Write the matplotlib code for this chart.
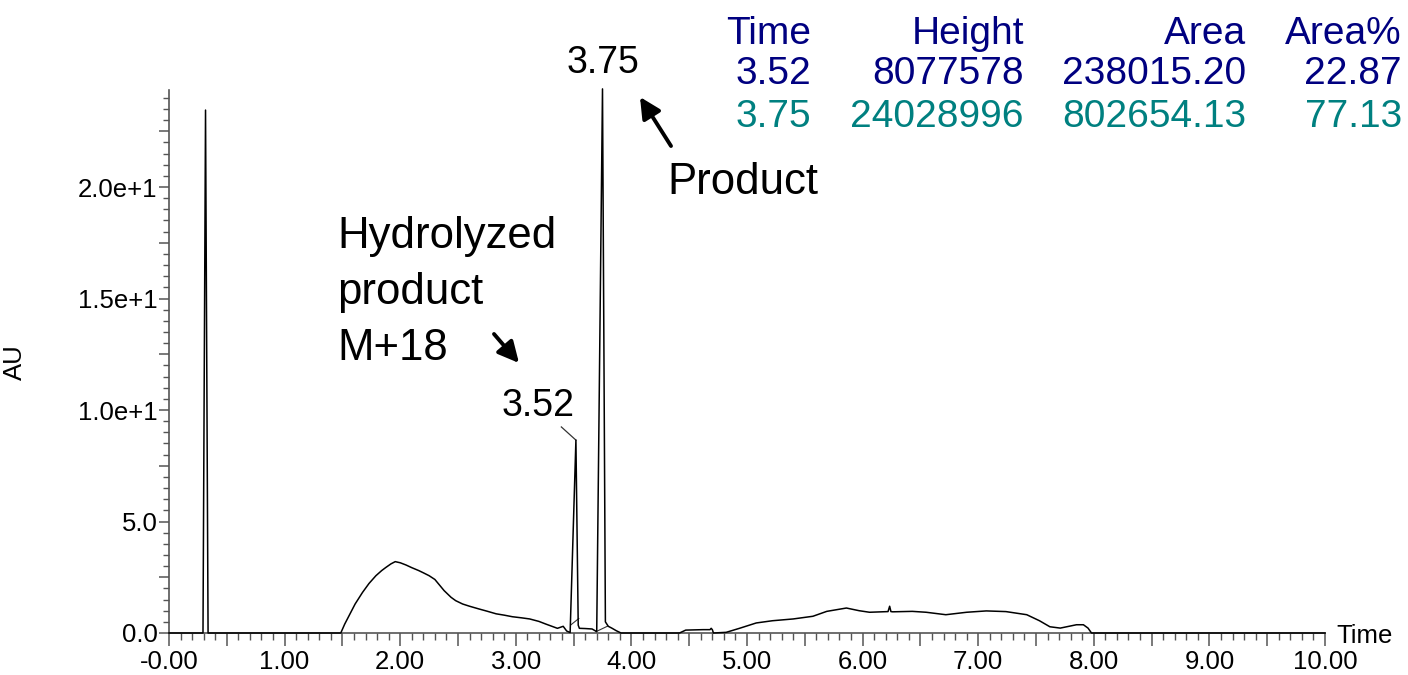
import numpy as np
import matplotlib
matplotlib.use("Agg")
import matplotlib.pyplot as plt
from matplotlib.ticker import FixedLocator, MultipleLocator

plt.rcParams["font.family"] = ["Liberation Sans", "DejaVu Sans"]

# ---- chromatogram trace (retention time in min, absorbance in AU) ----
trace_time = [0.00, 0.294, 0.316, 0.338,
              1.486, 1.52, 1.558, 1.61, 1.674, 1.73, 1.79, 1.84, 1.876, 1.92, 1.957,
              2.00, 2.05, 2.10, 2.16, 2.20, 2.25, 2.30, 2.34, 2.38, 2.44, 2.48,
              2.54, 2.60, 2.68, 2.75, 2.83, 2.90, 2.97, 3.05,
              3.12, 3.20, 3.26, 3.36, 3.41, 3.44, 3.47,
              3.52, 3.54, 3.55, 3.60, 3.66, 3.70,
              3.75, 3.775, 3.80, 3.83, 3.87, 3.91,
              4.416, 4.47, 4.62, 4.68, 4.69, 4.70, 4.71, 4.82, 4.935, 5.08, 5.22,
              5.40, 5.57, 5.69, 5.86, 5.97, 6.06, 6.22, 6.234, 6.245, 6.26, 6.43,
              6.55, 6.72, 6.90, 7.07, 7.24, 7.42, 7.53, 7.62, 7.71, 7.85, 7.91,
              7.95, 7.98, 10.00]
trace_au = [0.00, 0.00, 23.45, 0.00,
            0.00, 0.40, 0.78, 1.30, 1.82, 2.22, 2.57, 2.80, 2.94, 3.10, 3.20,
            3.15, 3.05, 2.93, 2.80, 2.70, 2.57, 2.40, 2.15, 1.90, 1.60, 1.45,
            1.30, 1.20, 1.08, 0.98, 0.86, 0.80, 0.73, 0.68,
            0.63, 0.52, 0.40, 0.21, 0.30, 0.09, 0.02,
            8.65, 0.35, 0.21, 0.20, 0.18, 0.06,
            24.40, 0.50, 0.30, 0.22, 0.10, 0.00,
            0.00, 0.13, 0.15, 0.15, 0.21, 0.15, 0.00, 0.03, 0.21, 0.45, 0.55,
            0.63, 0.75, 0.97, 1.12, 1.00, 0.93, 0.96, 1.20, 0.96, 0.95, 0.97,
            0.93, 0.82, 0.93, 0.99, 0.96, 0.82, 0.55, 0.28, 0.22, 0.37, 0.37,
            0.22, 0.00, 0.00]

# ---- integrated peaks ----
peak_times = ["3.52", "3.75"]
peak_apex_au = [8.65, 24.40]
peak_heights = ["8077578", "24028996"]
peak_areas = ["238015.20", "802654.13"]
peak_area_pct = ["22.87", "77.13"]
# integration baseline segments (start time, start AU, end time, end AU)
baseline_t0 = [3.475, 3.694]
baseline_y0 = [0.36, 0.06]
baseline_t1 = [3.545, 3.795]
baseline_y1 = [0.65, 0.31]

# ---- axis ticks ----
x_tick_values = [0, 1, 2, 3, 4, 5, 6, 7, 8, 9, 10]
x_tick_labels = ["-0.00", "1.00", "2.00", "3.00", "4.00", "5.00",
                 "6.00", "7.00", "8.00", "9.00", "10.00"]
y_tick_values = [0, 5, 10, 15, 20]
y_tick_labels = ["0.0", "5.0", "1.0e+1", "1.5e+1", "2.0e+1"]

W, H = 1408, 675
fig = plt.figure(figsize=(W / 100, H / 100), dpi=100)
ax = fig.add_axes([169 / W, 42 / H, (1325 - 169) / W, (633 - 90) / H])

ax.plot(trace_time, trace_au, color="black", lw=1.1, clip_on=False, zorder=3)
for t0, y0, t1, y1 in zip(baseline_t0, baseline_y0, baseline_t1, baseline_y1):
    ax.plot([t0, t1], [y0, y1], color="#333333", lw=0.8, zorder=2)

ax.set_xlim(0, 10)
ax.set_ylim(0, 24.35)

axis_col = "#555555"
for side in ("top", "right"):
    ax.spines[side].set_visible(False)
for side in ("left", "bottom"):
    ax.spines[side].set_color(axis_col)
    ax.spines[side].set_linewidth(1.2)

# x axis: long ticks every 0.5 min (labelled on whole minutes), short every 0.1
x_major = np.arange(0, 10.01, 0.5)
x_labels = []
for v in x_major:
    if abs(v - round(v)) < 1e-9 and int(round(v)) in x_tick_values:
        x_labels.append(x_tick_labels[x_tick_values.index(int(round(v)))])
    else:
        x_labels.append("")
ax.xaxis.set_major_locator(FixedLocator(x_major))
ax.set_xticklabels(x_labels)
ax.xaxis.set_minor_locator(MultipleLocator(0.1))

y_major = np.arange(0, 24.01, 2.5)
y_labels = []
for v in y_major:
    if abs(v - round(v)) < 1e-9 and int(round(v)) in y_tick_values:
        y_labels.append(y_tick_labels[y_tick_values.index(int(round(v)))])
    else:
        y_labels.append("")
ax.yaxis.set_major_locator(FixedLocator(y_major))
ax.set_yticklabels(y_labels)
ax.yaxis.set_minor_locator(MultipleLocator(0.5))

ax.tick_params(axis="x", which="major", length=9.5, width=1.1, color=axis_col,
               pad=3, labelsize=18.5)
ax.tick_params(axis="x", which="minor", length=5, width=1.0, color=axis_col)
ax.tick_params(axis="y", which="major", length=7, width=1.1, color=axis_col,
               pad=1.2, labelsize=18.5)
ax.tick_params(axis="y", which="minor", length=4.5, width=1.0, color=axis_col)

# axis titles
fig.text(15 / W, 1 - 362 / H, "AU", rotation=90, ha="center", va="center", fontsize=18.5)
fig.text(1336 / W, 1 - 636 / H, "Time", ha="left", va="center", fontsize=18.5)

# peak labels
lbl_size = 27
ax.text(float(peak_times[1]), peak_apex_au[1] + 0.35, peak_times[1],
        ha="center", va="bottom", fontsize=lbl_size, clip_on=False)
ax.text(3.19, 9.35, peak_times[0], ha="center", va="bottom", fontsize=lbl_size)
ax.plot([3.394, float(peak_times[0])], [9.24, peak_apex_au[0]],
        color="#333333", lw=0.9)

# annotations
ann_size = 31.5
hydro_lines = ["Hydrolyzed", "product", "M+18"]
for i, line in enumerate(hydro_lines):
    fig.text(337 / W, 1 - (248 + 56 * i) / H, line, ha="left", va="baseline",
             fontsize=ann_size)
fig.text(667 / W, 1 - 194 / H, "Product", ha="left", va="baseline", fontsize=ann_size)

arrow_kw = dict(arrowstyle="-|>,head_length=0.9,head_width=0.45", color="black",
                lw=2.8, shrinkA=0, shrinkB=0)
fig.add_artist(matplotlib.patches.FancyArrowPatch(
    (494 / W, 1 - 334 / H), (519 / W, 1 - 363 / H),
    transform=fig.transFigure, mutation_scale=14, **arrow_kw))
fig.add_artist(matplotlib.patches.FancyArrowPatch(
    (671 / W, 1 - 146 / H), (640 / W, 1 - 97 / H),
    transform=fig.transFigure, mutation_scale=14, **arrow_kw))

# peak table
navy = "#000080"
teal = "#008080"
table_size = 28
col_right = [811, 1024, 1246, 1402]
header = ["Time", "Height", "Area", "Area%"]
for x, h in zip(col_right, header):
    fig.text(x / W, 1 - 44 / H, h, ha="right", va="baseline", fontsize=table_size, color=navy)
row_base = [84, 127]
row_col = [navy, teal]
for r in range(len(peak_times)):
    vals = [peak_times[r], peak_heights[r], peak_areas[r], peak_area_pct[r]]
    for x, v in zip(col_right, vals):
        fig.text(x / W, 1 - row_base[r] / H, v, ha="right", va="baseline",
                 fontsize=table_size, color=row_col[r])

fig.savefig("out.png", dpi=100)
